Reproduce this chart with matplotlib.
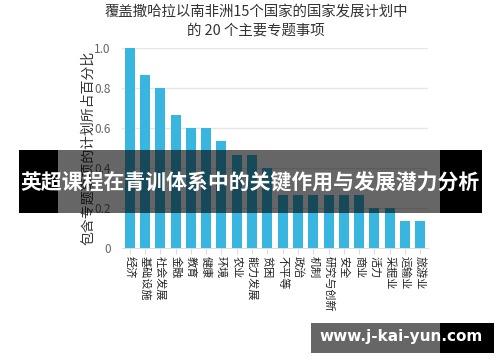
import matplotlib
matplotlib.use("Agg")
import matplotlib.pyplot as plt
from matplotlib.patches import Rectangle

plt.rcParams['font.family'] = ['Noto Sans CJK SC', 'DejaVu Sans']

categories = ["经济", "基础设施", "社会发展", "金融", "教育", "健康", "环境", "农业",
              "能力发展", "贫困", "不平等", "政治", "机制", "研究与创新", "安全", "商业",
              "活力", "采掘业", "运输业", "旅游业"]
values = [1.0, 0.867, 0.8, 0.667, 0.6, 0.6, 0.533, 0.467, 0.467, 0.4,
          0.267, 0.267, 0.267, 0.267, 0.267, 0.267, 0.2, 0.2, 0.133, 0.133]
yticks = [0, 0.2, 0.4, 0.6, 0.8, 1.0]
ytick_labels = ["0", "0.2", "0.4", "0.6", "0.8", "1.0"]
title = "覆盖撒哈拉以南非洲15个国家的国家发展计划中\n的 20 个主要专题事项"
ylabel = "包含专题事项的计划所占百分比"
banner = "英超课程在青训体系中的关键作用与发展潜力分析"
watermark = "www.j-kai-yun.com"

W, H = 500, 362
fig = plt.figure(figsize=(W / 100, H / 100), dpi=100)

def px(x0, y0, x1, y1):
    return [x0 / W, 1 - y1 / H, (x1 - x0) / W, (y1 - y0) / H]

ax = fig.add_axes(px(122, 48, 428, 248))
x = list(range(len(categories)))
ax.bar(x, values, width=0.66, color='#38b6e0', zorder=3)
ax.set_xlim(-0.5, len(categories) - 0.5)
ax.set_ylim(0, 1.0)
ax.set_yticks(yticks)
ax.set_yticklabels(ytick_labels, fontsize=8.5, color='#666666')
ax.set_xticks(x)
ax.set_xticklabels(categories, rotation=270, fontsize=8, color='#222222',
                   va='top', ha='center')
ax.tick_params(axis='y', length=0, pad=8)
ax.tick_params(axis='x', length=4, color='#dddddd', pad=2)
ax.grid(axis='y', color='#e6e6e6', linewidth=1, zorder=0)
for s in ['top', 'right', 'left']:
    ax.spines[s].set_visible(False)
ax.spines['bottom'].set_color('#dddddd')
ax.set_ylabel(ylabel, fontsize=10, color='#333333', labelpad=8)
ax.yaxis.set_label_coords(-0.088, 0.5)

fig.text(256 / W, 1 - 21 / H, title, ha='center', va='center', fontsize=10.4,
         color='#333333', linespacing=1.4)

# banner overlay
def rect(x0, y0, x1, y1, color, alpha):
    fig.patches.append(Rectangle((x0 / W, 1 - y1 / H), (x1 - x0) / W, (y1 - y0) / H,
                                 transform=fig.transFigure, facecolor=color,
                                 alpha=alpha, edgecolor='none', zorder=10))

rect(19, 150, 58, 213, 'black', 1.0)
rect(58, 150, 440, 213, 'black', 0.6)
rect(440, 150, 482, 213, 'black', 1.0)
fig.text(250 / W, 1 - 183 / H, banner, ha='center', va='center', fontsize=15,
         color='white', fontweight='bold', zorder=11)

rect(311, 323, 440, 353, 'black', 0.6)
rect(440, 323, 494, 353, 'black', 1.0)
fig.text(401 / W, 1 - 337 / H, watermark, ha='center', va='center', fontsize=11,
         color='white', fontweight='bold', family=['DejaVu Sans'], zorder=11)

fig.savefig("out.png", dpi=100)
